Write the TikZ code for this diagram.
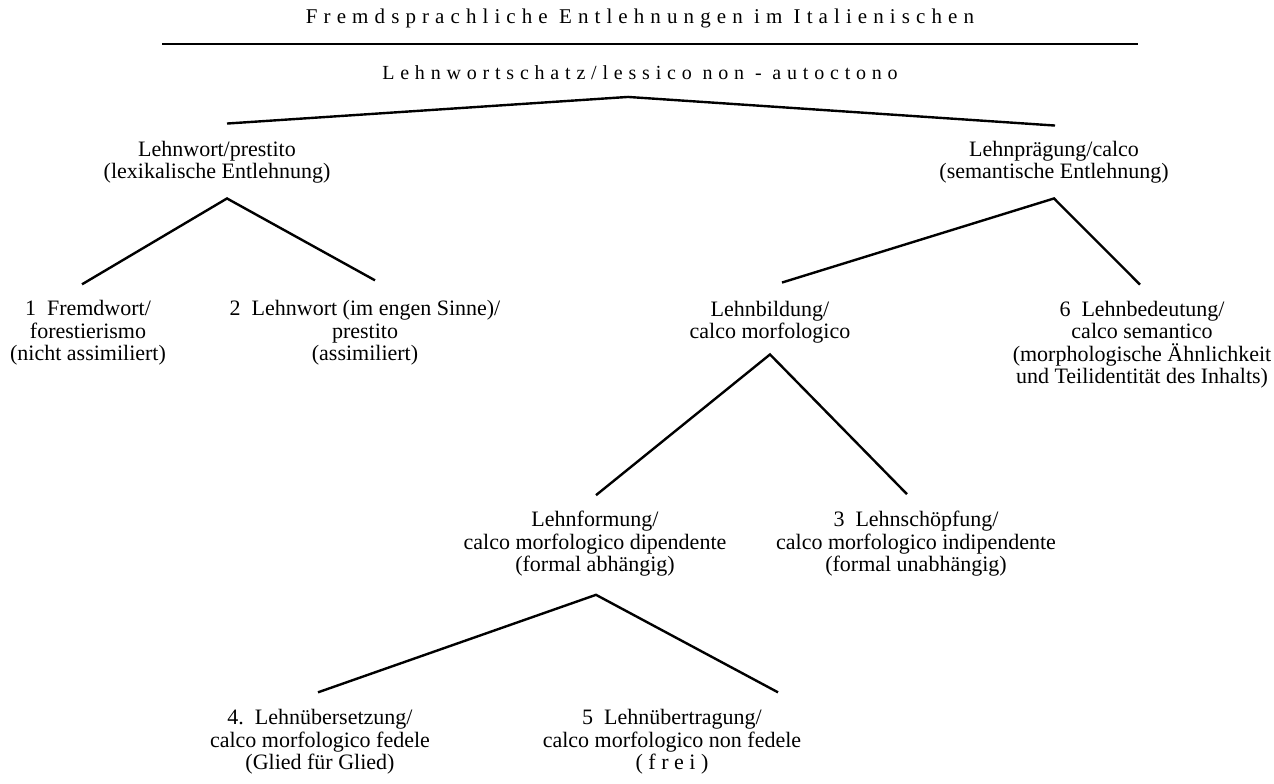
\documentclass[tikz,border=0pt]{standalone}
\usepackage{fontspec}
\setmainfont{Liberation Serif}
\newfontfamily\spacedfont[LetterSpace=29]{Liberation Serif}

\begin{document}
\begin{tikzpicture}[x=1pt, y=1pt,
  entry/.style = {align=center, inner sep=0pt, font=\fontsize{22}{22.5}\selectfont},
  heading/.style = {inner sep=0pt, font=\spacedfont\fontsize{#1}{22}\selectfont},
  heading/.default = 20,
  branch/.style = {line width=2.4pt}]
\useasboundingbox (0,0) rectangle (1274,-784);
% title and rule
\node[heading=21] (title) at (640,-18) {Fremdsprachliche Entlehnungen im Italienischen};
\coordinate (ruleL) at (162,-44);
\coordinate (ruleR) at (1138,-44);
\draw[branch] (ruleL) -- (ruleR);
\node[heading] (root) at (640,-73) {Lehnwortschatz/lessico non - autoctono};
% first level
\node[entry] (lw) at (217,-162) {Lehnwort/prestito\\(lexikalische Entlehnung)};
\node[entry] (lp) at (1054,-162) {Lehnprägung/calco\\(semantische Entlehnung)};
% second level
\node[entry] (fw) at (88,-333) {1\enspace Fremdwort/\\forestierismo\\(nicht assimiliert)};
\node[entry] (lwe) at (365,-333) {2\enspace Lehnwort (im engen Sinne)/\\prestito\\(assimiliert)};
\node[entry] (lb) at (770,-322) {Lehnbildung/\\calco morfologico};
\node[entry] (lbd) at (1142,-344.5) {6\enspace Lehnbedeutung/\\calco semantico\\(morphologische Ähnlichkeit\\und Teilidentität des Inhalts)};
% third level
\node[entry] (lf) at (595,-544) {Lehnformung/\\calco morfologico dipendente\\(formal abhängig)};
\node[entry] (ls) at (916,-544) {3\enspace Lehnschöpfung/\\calco morfologico indipendente\\(formal unabhängig)};
% fourth level
\node[entry] (lue) at (320,-742) {4.\enspace Lehnübersetzung/\\calco morfologico fedele\\(Glied für Glied)};
\node[entry] (lut) at (672,-742) {5\enspace Lehnübertragung/\\calco morfologico non fedele\\( f r e i )};
% branches
\draw[branch] ([xshift=10pt,yshift=17pt]lw.north) -- ([xshift=-12pt,yshift=-16.7pt]root.south) -- ([xshift=1pt,yshift=15pt]lp.north);
\draw[branch] ([xshift=-6pt,yshift=16pt]fw.north) -- ([xshift=10pt,yshift=-15pt]lw.south) -- ([xshift=10pt,yshift=20pt]lwe.north);
\draw[branch] ([xshift=12pt,yshift=18pt]lb.north) -- ([yshift=-15pt]lp.south) -- ([xshift=-2pt,yshift=16pt]lbd.north);
\draw[branch] ([xshift=1pt,yshift=16pt]lf.north) -- ([yshift=-11pt]lb.south) -- ([xshift=-9pt,yshift=17pt]ls.north);
\draw[branch] ([xshift=-2pt,yshift=17pt]lue.north) -- ([xshift=1pt,yshift=-18pt]lf.south) -- ([xshift=106pt,yshift=17pt]lut.north);
\end{tikzpicture}
\end{document}
